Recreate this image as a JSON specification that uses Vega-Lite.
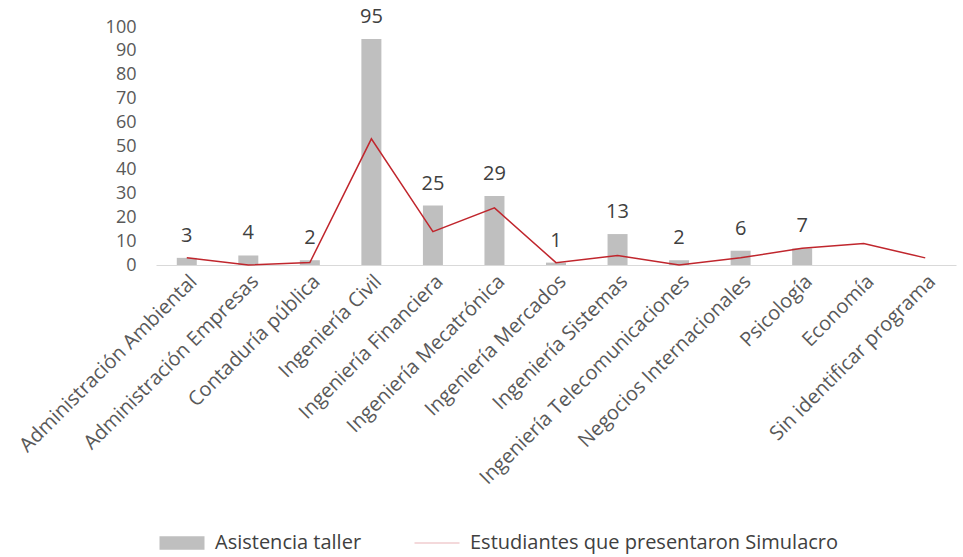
{
  "$schema": "https://vega.github.io/schema/vega-lite/v6.json",
  "width": 800,
  "height": 238,
  "padding": {"left": 15, "top": 6, "right": 2, "bottom": 5},
  "config": {
    "view": {"stroke": null},
    "font": "Open Sans",
    "axis": {"labelFont": "Open Sans", "labelColor": "#595959"},
    "axisY": {"labelOverlap": false, "tickCount": 11}
  },
  "data": {
    "values": [
      {"programa": "Administración Ambiental", "asistencia": 3, "estudiantes": 3},
      {"programa": "Administración Empresas", "asistencia": 4, "estudiantes": 0},
      {"programa": "Contaduría pública", "asistencia": 2, "estudiantes": 1},
      {"programa": "Ingeniería Civil", "asistencia": 95, "estudiantes": 53},
      {"programa": "Ingeniería Financiera", "asistencia": 25, "estudiantes": 14},
      {"programa": "Ingeniería Mecatrónica", "asistencia": 29, "estudiantes": 24},
      {"programa": "Ingeniería Mercados", "asistencia": 1, "estudiantes": 1},
      {"programa": "Ingeniería Sistemas", "asistencia": 13, "estudiantes": 4},
      {"programa": "Ingeniería Telecomunicaciones", "asistencia": 2, "estudiantes": 0},
      {"programa": "Negocios Internacionales", "asistencia": 6, "estudiantes": 3},
      {"programa": "Psicología", "asistencia": 7, "estudiantes": 7},
      {"programa": "Economía", "asistencia": null, "estudiantes": 9},
      {"programa": "Sin identificar programa", "asistencia": null, "estudiantes": 3}
    ]
  },
  "encoding": {
    "x": {
      "field": "programa",
      "type": "nominal",
      "sort": null,
      "title": null,
      "axis": {
        "labelAngle": -45,
        "labelFontSize": 20,
        "ticks": false,
        "domainColor": "#D9D9D9",
        "labelPadding": 6,
        "labelLimit": 400
      }
    }
  },
  "layer": [
    {
      "mark": {"type": "bar", "size": 20},
      "encoding": {
        "y": {
          "field": "asistencia",
          "type": "quantitative",
          "title": null,
          "scale": {"domain": [0, 100]},
          "axis": {
            "values": [0, 10, 20, 30, 40, 50, 60, 70, 80, 90, 100],
            "labelOverlap": false,
            "grid": false,
            "domain": false,
            "ticks": false,
            "labelFontSize": 18,
            "labelPadding": 20
          }
        },
        "color": {
          "datum": "Asistencia taller",
          "type": "nominal",
          "scale": {
            "domain": ["Asistencia taller", "Estudiantes que presentaron Simulacro"],
            "range": ["#BFBFBF", "#C0262D"]
          },
          "legend": {
            "title": null,
            "orient": "none",
            "legendX": 16,
            "legendY": 506,
            "direction": "horizontal",
            "labelFont": "Open Sans",
            "labelFontSize": 20,
            "labelColor": "#404040",
            "labelLimit": 500,
            "labelOffset": 23,
            "columnPadding": 50,
            "symbolSize": 2025,
            "encode": {
              "symbols": {
                "update": {
                  "shape": {"signal": "datum.value == 'Asistencia taller' ? 'M-1,-0.3H1V0.3H-1Z' : 'stroke'"},
                  "strokeWidth": {"signal": "datum.value == 'Asistencia taller' ? 0 : 1"},
                  "strokeOpacity": {"signal": "datum.value == 'Asistencia taller' ? 1 : 0.35"}
                }
              }
            }
          }
        }
      }
    },
    {
      "mark": {"type": "text", "dy": -22, "fontSize": 20, "color": "#404040", "font": "Open Sans"},
      "encoding": {
        "y": {"field": "asistencia", "type": "quantitative"},
        "text": {"field": "asistencia", "type": "quantitative"}
      }
    },
    {
      "mark": {"type": "line", "strokeWidth": 1.5},
      "encoding": {
        "y": {"field": "estudiantes", "type": "quantitative"},
        "color": {"datum": "Estudiantes que presentaron Simulacro", "type": "nominal"}
      }
    }
  ]
}
